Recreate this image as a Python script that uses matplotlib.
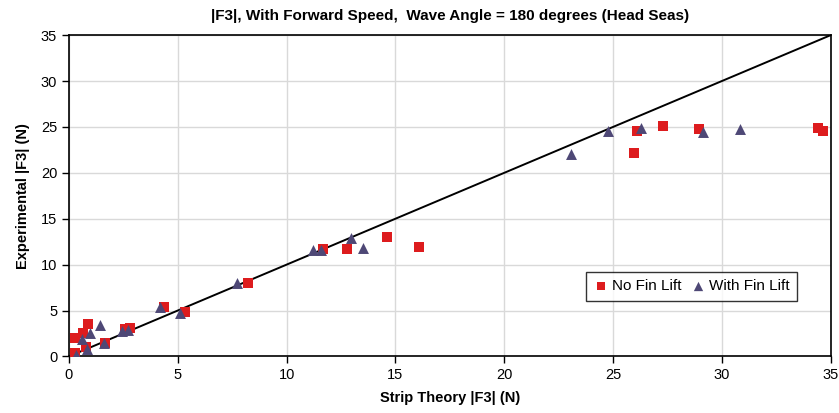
import matplotlib
matplotlib.use("Agg")
import matplotlib.pyplot as plt

plt.rcParams['font.family'] = ['Liberation Sans', 'DejaVu Sans']

# No Fin Lift (red squares)
nofin_x = [0.28, 0.28, 0.63, 0.89, 0.78, 1.66, 2.58, 2.81, 4.38, 5.34, 8.24,
           11.65, 12.77, 14.61, 16.06, 25.94, 26.10, 27.27, 28.95, 34.42, 34.65]
nofin_y = [2.0, 0.36, 2.6, 3.5, 1.0, 1.5, 2.95, 3.05, 5.4, 4.85, 8.0,
           11.65, 11.65, 13.0, 11.95, 22.2, 24.6, 25.05, 24.75, 24.85, 24.5]

# With Fin Lift (triangles)
fin_x = [0.32, 0.58, 0.84, 0.97, 1.43, 1.61, 2.43, 2.73, 4.19, 5.08, 7.73,
         11.22, 11.56, 12.94, 13.49, 23.05, 24.77, 26.27, 29.12, 30.83]
fin_y = [0.15, 1.85, 0.8, 2.5, 3.45, 1.45, 2.8, 2.9, 5.35, 4.7, 7.95,
         11.6, 11.6, 12.9, 11.85, 22.1, 24.5, 24.85, 24.45, 24.75]

line_x = [0, 35]
line_y = [0, 35]

fig = plt.figure(figsize=(8.39, 4.13), dpi=100)
ax = fig.add_axes([0.0822, 0.137, 0.908, 0.778])

ax.plot(line_x, line_y, color='black', lw=1.4, zorder=2)
ax.scatter(nofin_x, nofin_y, marker='s', s=42, color='#dd1c1e', linewidths=0,
           label='No Fin Lift', zorder=3)
ax.scatter(fin_x, fin_y, marker='^', s=62, color='#4e4876', linewidths=0,
           label='With Fin Lift', zorder=4)

ax.set_xlim(0, 35)
ax.set_ylim(0, 35)
ax.set_xticks(range(0, 36, 5))
ax.set_yticks(range(0, 36, 5))
ax.grid(True, color='#d9d9d9', lw=1.0, zorder=0)
ax.set_axisbelow(True)
for s in ['top', 'right', 'left', 'bottom']:
    ax.spines[s].set_linewidth(1.2)
ax.tick_params(axis='both', labelsize=10.5, length=5, width=1.0, direction='out')

ax.set_title('|F3|, With Forward Speed,  Wave Angle = 180 degrees (Head Seas)',
             fontsize=11, fontweight='bold', pad=11)
ax.set_xlabel('Strip Theory |F3| (N)', fontsize=10.5, fontweight='bold', labelpad=6)
ax.set_ylabel('Experimental |F3| (N)', fontsize=10.5, fontweight='bold', labelpad=8)

leg = ax.legend(loc='center', bbox_to_anchor=(0.817, 0.218), ncol=2,
                fontsize=11, frameon=True, fancybox=False, edgecolor='black',
                handletextpad=0.2, columnspacing=0.6, handlelength=1.0,
                borderpad=0.5, scatterpoints=1, markerscale=0.85)
leg.get_frame().set_linewidth(1.0)

fig.savefig('out.png', dpi=100)
